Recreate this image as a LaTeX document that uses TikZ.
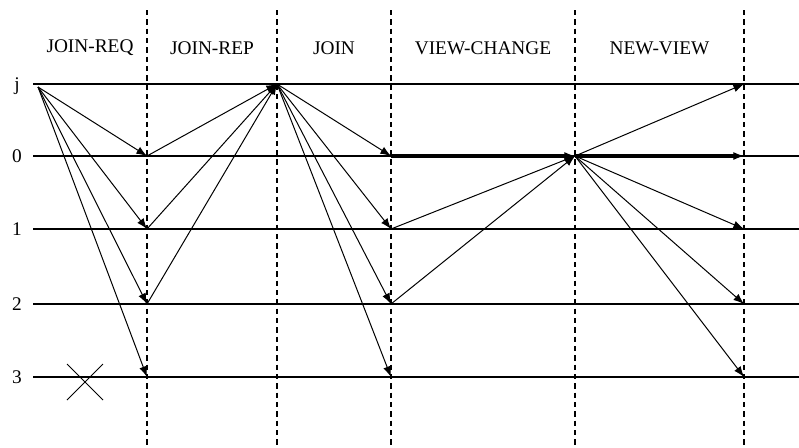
\documentclass[tikz,border=0pt]{standalone}
\usepackage{fontspec}
\setmainfont{Liberation Serif}
\usetikzlibrary{arrows.meta,calc}

\begin{document}
\begin{tikzpicture}[x=0.75pt,y=-0.75pt,
  every node/.style = {font=\fontsize{14.5}{17}\selectfont, inner sep=0pt},
  proc/.style = {line width=1pt},
  phase/.style = {line width=0.8pt, dash pattern=on 4pt off 3pt},
  msg/.style = {line width=0.75pt, -{Latex[length=8pt,width=6pt]}},
  heavy/.style = {line width=2.6pt, shorten >=6pt}]
  \useasboundingbox (0,0) rectangle (799,447);

  % process lines and names
  \foreach \r/\y in {j/84,0/156,1/229,2/304,3/377} {
    \draw[proc] (33,\y) -- (799,\y);
    \node[anchor=base] (name-\r) at (17,\y+6) {\r};
  }

  % phase borders and headers
  \coordinate (left) at (33,48);
  \foreach \c/\x/\txt in {req/147/JOIN-REQ,rep/277/JOIN-REP,join/391/JOIN,
                          vc/575/VIEW-CHANGE,nv/744/NEW-VIEW} {
    \draw[phase] (\x,10) -- (\x,447);
    \foreach \r/\y in {j/84,0/156,1/229,2/304,3/377}
      \coordinate (\c-\r) at (\x,\y);
    \node (head-\c) at ($(left)!0.5!(\x,48)$) {\txt};
    \coordinate (left) at (\x,48);
  }

  \coordinate (start) at (38,87);

  % JOIN-REQ
  \foreach \r in {0,1,2,3}
    \draw[msg] (start) -- (req-\r);
  % JOIN-REP
  \foreach \r in {0,1,2}
    \draw[msg] (req-\r) -- (rep-j);
  % JOIN
  \foreach \r in {0,1,2,3}
    \draw[msg] (rep-j) -- (join-\r);
  % VIEW-CHANGE
  \draw[heavy] (join-0) -- (vc-0);
  \draw[msg] (join-0) -- (vc-0);
  \foreach \r in {1,2}
    \draw[msg] (join-\r) -- (vc-0);
  % NEW-VIEW
  \draw[heavy, line width=2.3pt] (vc-0) -- (nv-0);
  \draw[msg] (vc-0) -- (nv-0);
  \foreach \r in {j,1,2,3}
    \draw[msg] (vc-0) -- (nv-\r);

  % crashed process
  \coordinate (crash) at (85,382);
  \draw[line width=0.7pt] ($(crash)+(-18,-18)$) -- ($(crash)+(18,18)$)
                          ($(crash)+(-18,18)$) -- ($(crash)+(18,-18)$);
\end{tikzpicture}
\end{document}
